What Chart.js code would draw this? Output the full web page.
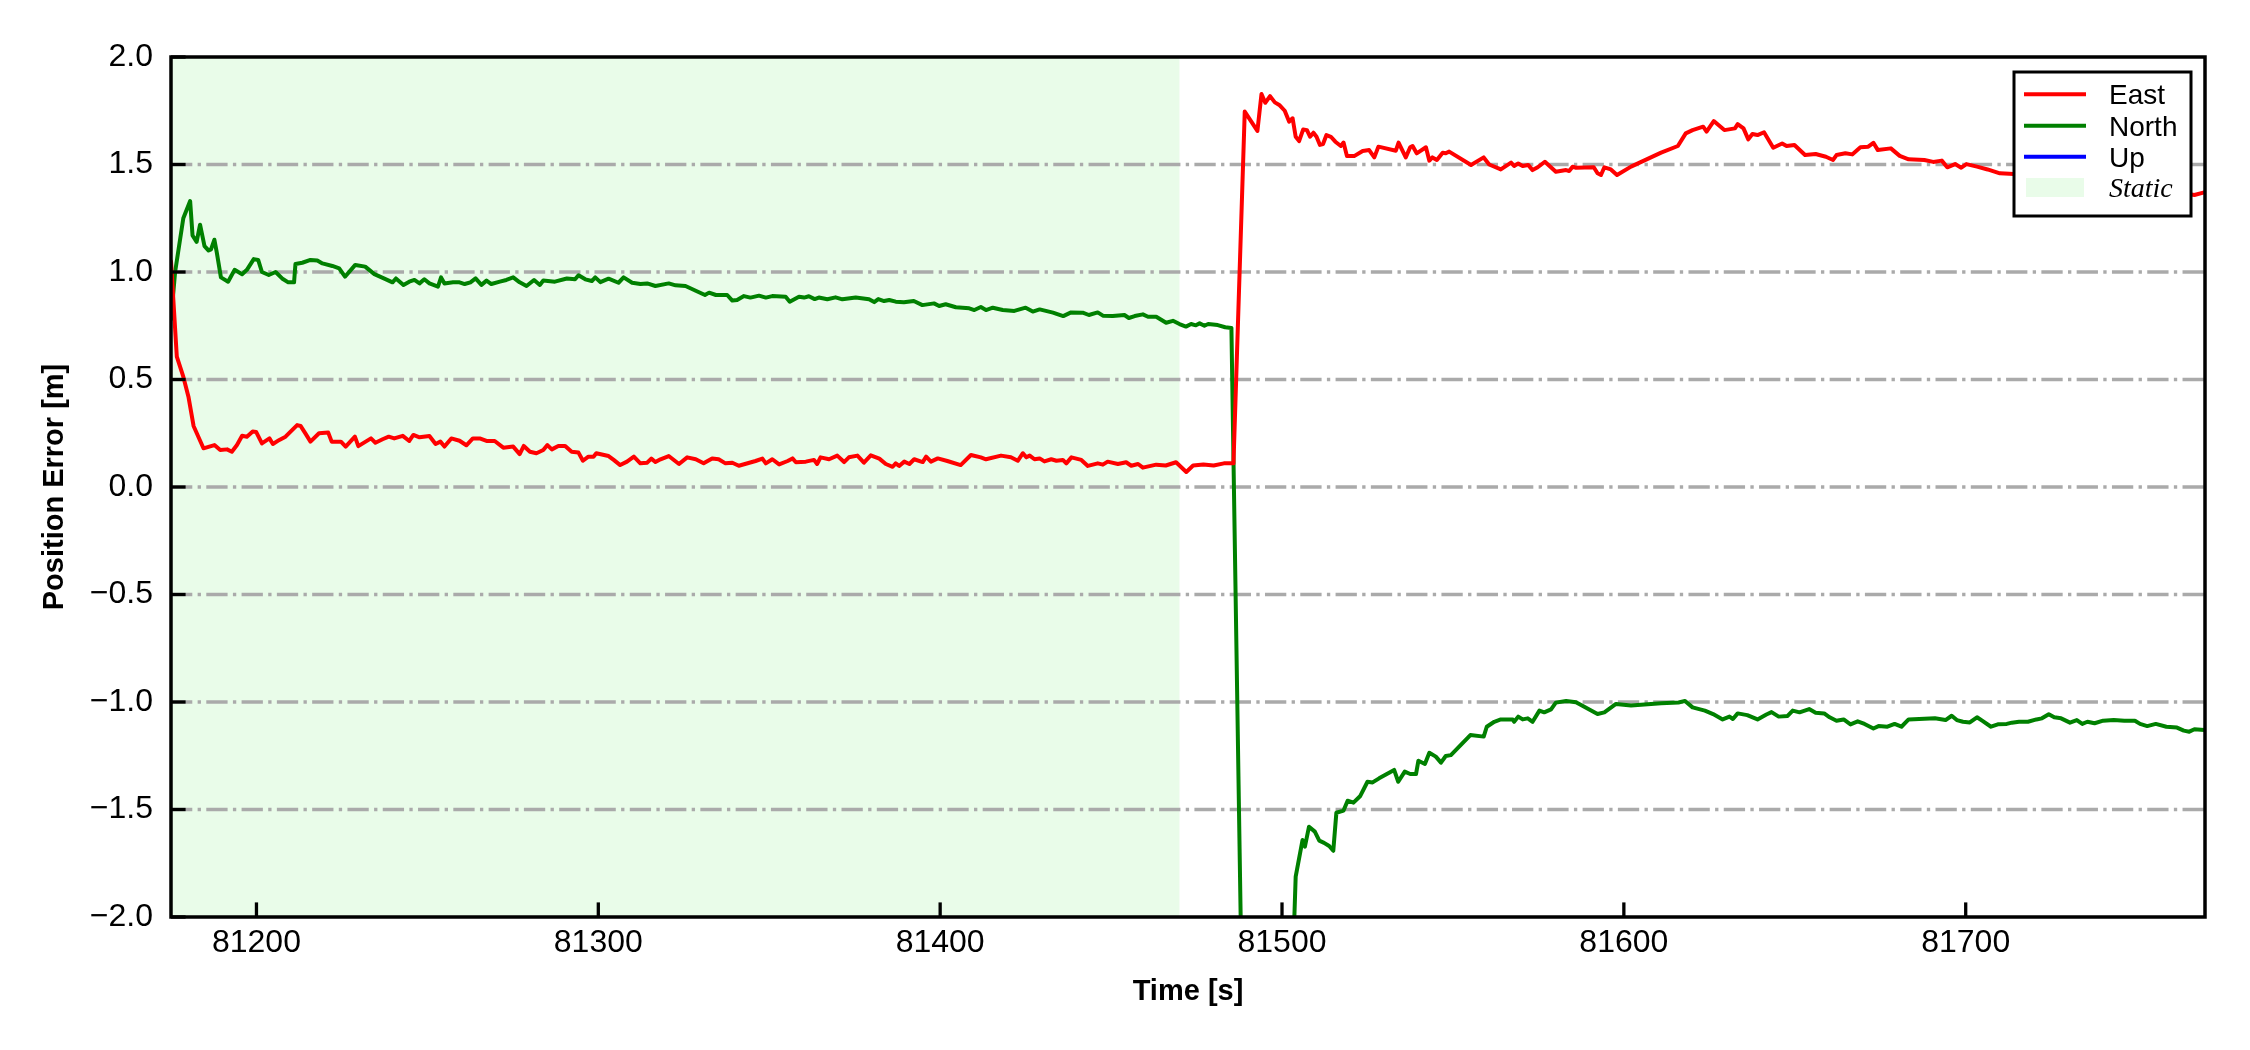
<!DOCTYPE html>
<html>
<head>
<meta charset="utf-8">
<script src="https://cdn.jsdelivr.net/npm/chart.js@4.4.1/dist/chart.umd.min.js"></script>
<style>
html,body{margin:0;padding:0;background:#fff;}
canvas{display:block;}
</style>
</head>
<body>
<canvas id="c" width="2250" height="1050"></canvas>
<script>
// ---------------- data ----------------
const xTickValues = [81200, 81300, 81400, 81500, 81600, 81700];
const yTickValues = [-2.0, -1.5, -1.0, -0.5, 0.0, 0.5, 1.0, 1.5, 2.0];
const xRange = [81175, 81770];
const yRange = [-2, 2];
const staticRange = [81175, 81470];
const legendLabels = ['East', 'North', 'Up', 'Static'];

const eastTime = [
81175.0,81176.7,81178.6,81180.1,81181.6,81183.0,81184.5,81187.7,81189.4,81191.4,
81192.8,81194.3,81195.8,81197.2,81198.9,81199.9,81201.6,81203.8,81204.8,81206.7,
81208.5,81211.9,81212.9,81214.4,81215.8,81218.3,81221.0,81222.0,81224.7,81226.1,
81228.8,81229.8,81233.5,81234.8,81236.9,81238.7,81240.3,81242.8,81244.7,81245.9,
81247.7,81250.6,81252.4,81253.8,81255.0,81257.0,81259.4,81261.4,81263.3,81265.3,
81267.3,81269.7,81272.2,81275.1,81277.0,81278.2,81280.0,81281.9,81283.9,81285.1,
81286.4,81288.3,81290.3,81292.2,81294.2,81295.5,81297.1,81298.6,81299.4,81303.0,
81304.5,81306.4,81308.4,81310.4,81312.3,81314.3,81315.5,81316.7,81318.2,81320.6,
81323.6,81326.0,81328.5,81330.8,81333.3,81335.2,81337.2,81339.2,81341.1,81346.0,
81348.0,81349.0,81350.9,81352.9,81355.4,81356.8,81357.8,81360.7,81363.1,81364.0,
81365.0,81367.5,81369.9,81371.9,81373.3,81375.8,81377.7,81379.7,81382.2,81384.1,
81386.1,81387.0,81388.0,81389.5,81391.0,81392.4,81394.9,81395.9,81397.3,81399.3,
81402.1,81406.0,81409.0,81411.9,81413.4,81417.8,81420.7,81422.7,81424.2,81425.2,
81426.2,81427.6,81429.1,81430.5,81432.5,81434.0,81435.9,81436.9,81438.4,81441.3,
81443.2,81446.1,81447.6,81449.0,81452.0,81454.4,81455.9,81457.9,81459.3,81463.2,
81466.0,81469.0,81472.0,81474.0,81477.0,81480.0,81483.0,81485.8,81489.1,81492.8,
81494.0,81495.1,81496.5,81497.9,81499.2,81500.8,81502.1,81503.1,81504.0,81505.0,
81506.2,81507.3,81508.2,81509.2,81510.1,81511.1,81512.0,81513.0,81514.3,81515.6,
81517.2,81518.0,81519.0,81521.1,81523.6,81525.5,81527.0,81528.2,81533.3,81534.1,
81536.2,81537.5,81538.2,81539.4,81542.1,81543.1,81544.0,81545.3,81547.0,81547.9,
81548.9,81555.3,81559.0,81560.6,81564.0,81567.0,81567.9,81569.1,81570.4,81572.0,
81573.3,81574.8,81576.9,81580.1,81583.1,81584.0,81585.0,81586.0,81591.2,81592.3,
81593.3,81594.3,81596.2,81598.0,81602.1,81610.9,81615.8,81618.1,81620.1,81623.2,
81624.2,81626.3,81629.4,81632.5,81633.3,81635.0,81636.4,81637.6,81639.1,81641.0,
81643.7,81646.3,81647.6,81649.9,81653.0,81656.1,81659.1,81661.2,81662.2,81664.8,
81666.8,81669.2,81671.5,81673.0,81674.3,81678.1,81680.7,81683.3,81687.9,81690.5,
81693.0,81694.6,81696.9,81698.7,81700.2,81703.3,81706.4,81710.0,81714.1,81730.0,
81750.0,81766.9,81769.5
];
const eastValues = [
1.050,0.606,0.513,0.420,0.284,0.234,0.180,0.195,0.172,0.175,
0.164,0.195,0.238,0.234,0.258,0.256,0.203,0.226,0.200,0.219,
0.234,0.288,0.284,0.247,0.211,0.250,0.253,0.211,0.211,0.188,
0.234,0.190,0.226,0.206,0.222,0.234,0.226,0.238,0.214,0.242,
0.231,0.237,0.200,0.211,0.188,0.226,0.215,0.194,0.226,0.226,
0.214,0.214,0.183,0.188,0.153,0.191,0.164,0.157,0.172,0.195,
0.175,0.191,0.191,0.164,0.160,0.122,0.141,0.141,0.157,0.144,
0.126,0.102,0.118,0.141,0.110,0.113,0.132,0.116,0.129,0.144,
0.107,0.138,0.129,0.110,0.133,0.129,0.110,0.113,0.099,0.121,
0.132,0.110,0.129,0.105,0.121,0.133,0.115,0.118,0.126,0.107,
0.138,0.129,0.146,0.116,0.138,0.146,0.113,0.147,0.132,0.107,
0.094,0.110,0.098,0.118,0.107,0.129,0.116,0.141,0.118,0.133,
0.121,0.102,0.149,0.138,0.129,0.146,0.138,0.122,0.157,0.138,
0.146,0.129,0.133,0.119,0.129,0.122,0.126,0.110,0.138,0.126,
0.098,0.110,0.104,0.118,0.107,0.115,0.099,0.107,0.090,0.104,
0.100,0.115,0.070,0.100,0.105,0.100,0.110,0.110,1.746,1.656,
1.828,1.787,1.818,1.789,1.777,1.750,1.699,1.715,1.629,1.609,
1.663,1.660,1.629,1.648,1.629,1.591,1.595,1.637,1.629,1.606,
1.586,1.602,1.539,1.539,1.563,1.567,1.533,1.583,1.564,1.602,
1.533,1.580,1.586,1.552,1.580,1.518,1.533,1.521,1.555,1.552,
1.560,1.498,1.533,1.500,1.477,1.509,1.493,1.505,1.493,1.498,
1.474,1.487,1.513,1.466,1.474,1.470,1.490,1.485,1.487,1.459,
1.451,1.487,1.477,1.451,1.490,1.555,1.586,1.645,1.660,1.676,
1.653,1.702,1.660,1.668,1.688,1.668,1.617,1.642,1.637,1.650,
1.578,1.598,1.586,1.591,1.544,1.549,1.536,1.521,1.544,1.552,
1.547,1.580,1.583,1.601,1.567,1.575,1.540,1.524,1.521,1.512,
1.518,1.487,1.502,1.485,1.502,1.490,1.477,1.459,1.456,1.420,
1.400,1.358,1.369
];

const northTime = [
81175.0,81176.2,81178.6,81180.6,81181.3,81182.5,81183.5,81184.8,81186.0,81186.7,
81187.7,81188.4,81189.6,81191.7,81193.6,81195.8,81197.2,81199.2,81200.5,81201.6,
81203.6,81205.6,81207.5,81209.3,81211.0,81211.4,81213.4,81215.8,81217.8,81219.3,
81222.2,81224.2,81225.9,81228.9,81231.8,81234.5,81237.9,81239.8,81240.8,81243.0,
81244.7,81246.2,81247.7,81249.1,81250.6,81253.1,81254.0,81255.0,81257.5,81259.4,
81260.9,81262.6,81264.1,81265.8,81267.3,81268.7,81271.2,81273.1,81275.1,81277.0,
81279.0,81281.2,81282.9,81283.9,81287.3,81290.8,81293.2,81294.2,81296.2,81298.1,
81299.1,81300.6,81303.0,81305.9,81307.4,81309.9,81312.3,81314.3,81316.7,81320.6,
81322.6,81325.5,81328.5,81331.2,81332.4,81334.4,81337.7,81339.2,81340.6,81342.6,
81344.5,81347.0,81349.0,81350.9,81354.8,81356.0,81358.7,81360.2,81361.6,81363.3,
81364.5,81367.0,81369.4,81371.4,81375.3,81379.2,81380.7,81381.9,81383.6,81385.1,
81387.0,81389.4,81392.3,81394.8,81398.2,81399.7,81401.6,81404.6,81408.5,81410.0,
81411.9,81413.4,81415.4,81418.3,81421.7,81425.0,81427.1,81429.1,81433.0,81436.0,
81438.3,81441.7,81443.5,81446.1,81447.6,81450.5,81453.9,81455.2,81456.9,81459.3,
81460.8,81463.2,81466.1,81468.1,81470.0,81471.9,81473.4,81474.8,81475.9,81477.3,
81478.4,81481.2,81483.4,81485.2,81488.5,81503.0,81504.0,81506.0,81506.7,81507.9,
81509.6,81510.9,81512.3,81513.8,81515.0,81515.9,81518.0,81519.2,81520.9,81522.9,
81525.0,81526.5,81528.4,81532.8,81534.0,81535.9,81537.5,81539.2,81539.9,81541.8,
81543.1,81545.0,81546.5,81547.9,81549.4,81555.1,81559.0,81559.9,81562.1,81564.0,
81567.5,81567.9,81569.1,81570.4,81571.9,81573.3,81575.3,81576.7,81578.7,81580.1,
81583.1,81586.0,81592.3,81594.3,81597.7,81602.1,81610.9,81616.0,81617.9,81620.1,
81623.7,81626.1,81628.9,81630.9,81631.9,81633.3,81636.1,81639.1,81641.7,81643.2,
81645.3,81647.9,81649.4,81651.4,81654.2,81656.1,81658.6,81660.2,81662.2,81664.3,
81666.3,81668.4,81670.4,81673.0,81674.5,81677.1,81679.2,81681.2,81683.3,81691.0,
81694.1,81695.9,81697.4,81699.2,81701.2,81703.3,81704.8,81707.4,81709.4,81712.0,
81713.5,81715.6,81718.2,81720.7,81722.3,81724.3,81725.9,81727.9,81730.5,81732.5,
81734.1,81735.6,81737.7,81740.2,81743.3,81746.4,81749.5,81751.0,81753.1,81755.6,
81758.7,81761.8,81763.8,81765.4,81766.9,81769.8
];
const northValues = [
0.780,1.000,1.250,1.330,1.170,1.140,1.220,1.120,1.100,1.105,
1.150,1.090,0.975,0.955,1.010,0.990,1.010,1.060,1.056,1.000,
0.986,1.000,0.970,0.952,0.952,1.037,1.043,1.056,1.053,1.040,
1.028,1.017,0.978,1.033,1.025,0.990,0.966,0.952,0.970,0.940,
0.955,0.963,0.947,0.966,0.947,0.932,0.975,0.947,0.952,0.952,
0.944,0.952,0.970,0.940,0.960,0.944,0.955,0.963,0.975,0.952,
0.935,0.963,0.940,0.960,0.955,0.970,0.966,0.985,0.966,0.958,
0.975,0.953,0.969,0.950,0.975,0.950,0.944,0.947,0.935,0.947,
0.938,0.935,0.913,0.893,0.904,0.893,0.893,0.867,0.870,0.888,
0.881,0.890,0.881,0.888,0.885,0.862,0.885,0.881,0.887,0.874,
0.881,0.873,0.882,0.873,0.881,0.873,0.860,0.874,0.865,0.870,
0.862,0.859,0.865,0.846,0.854,0.842,0.850,0.836,0.831,0.823,
0.837,0.823,0.834,0.823,0.819,0.834,0.816,0.826,0.811,0.795,
0.812,0.811,0.800,0.812,0.797,0.795,0.800,0.786,0.795,0.803,
0.792,0.792,0.764,0.773,0.758,0.746,0.758,0.752,0.761,0.750,
0.758,0.753,0.743,0.740,-2.600,-2.300,-1.812,-1.642,-1.673,-1.580,
-1.603,-1.645,-1.655,-1.670,-1.692,-1.515,-1.505,-1.459,-1.468,-1.437,
-1.371,-1.374,-1.355,-1.316,-1.371,-1.324,-1.335,-1.335,-1.273,-1.288,
-1.236,-1.254,-1.282,-1.251,-1.247,-1.154,-1.161,-1.115,-1.092,-1.081,
-1.081,-1.092,-1.068,-1.081,-1.076,-1.092,-1.040,-1.048,-1.034,-1.003,
-0.995,-1.001,-1.056,-1.048,-1.009,-1.016,-1.006,-1.002,-0.995,-1.025,
-1.040,-1.056,-1.081,-1.068,-1.079,-1.053,-1.061,-1.081,-1.058,-1.047,
-1.068,-1.065,-1.040,-1.048,-1.033,-1.050,-1.053,-1.071,-1.087,-1.081,
-1.104,-1.090,-1.102,-1.123,-1.112,-1.115,-1.102,-1.115,-1.081,-1.076,
-1.084,-1.064,-1.084,-1.092,-1.095,-1.071,-1.087,-1.115,-1.104,-1.102,
-1.096,-1.092,-1.092,-1.081,-1.076,-1.057,-1.071,-1.076,-1.096,-1.084,
-1.102,-1.092,-1.099,-1.087,-1.084,-1.087,-1.087,-1.102,-1.112,-1.102,
-1.115,-1.119,-1.133,-1.138,-1.127,-1.130
];

// Up is listed in the legend but no blue trace is visible in the plotted range
const upTime = [];
const upValues = [];

// ---------------- styles ----------------
const eastColor = '#ff0000', northColor = '#008000', upColor = '#0000ff';
const staticColor = 'rgba(144,238,144,0.2)';
const lineW = 4;

Chart.defaults.font.family = "'Liberation Sans', Arial, Helvetica, sans-serif";
Chart.defaults.color = '#000';

function pts(t, v) { return t.map((x, i) => ({x: x, y: v[i]})); }

const decor = {
  id: 'decor',
  beforeDraw(chart) {
    const {ctx, chartArea: a, scales: {x, y}} = chart;
    ctx.save();
    ctx.fillStyle = '#ffffff';
    ctx.fillRect(0, 0, chart.width, chart.height);
    const s0 = Math.max(x.getPixelForValue(staticRange[0]), a.left);
    const s1 = Math.min(x.getPixelForValue(staticRange[1]), a.right);
    ctx.fillStyle = staticColor;
    ctx.fillRect(s0, a.top, s1 - s0, a.bottom - a.top);
    ctx.strokeStyle = '#aaaaaa';
    ctx.lineWidth = 3.33;
    ctx.lineCap = 'butt';
    ctx.setLineDash([21.3, 5.33, 3.33, 5.33]);
    yTickValues.forEach(v => {
      if (v <= yRange[0] || v >= yRange[1]) return;
      const py = y.getPixelForValue(v);
      ctx.beginPath(); ctx.moveTo(a.left, py); ctx.lineTo(a.right, py); ctx.stroke();
    });
    ctx.restore();
  },
  afterDatasetsDraw(chart) {
    const {ctx, chartArea: a, scales: {x, y}} = chart;
    ctx.save();
    ctx.setLineDash([]);
    ctx.strokeStyle = '#000';
    ctx.lineWidth = 3.3;
    ctx.lineCap = 'butt';
    xTickValues.forEach(v => {
      const px = x.getPixelForValue(v);
      ctx.beginPath(); ctx.moveTo(px, a.bottom); ctx.lineTo(px, a.bottom - 14.6); ctx.stroke();
    });
    yTickValues.forEach(v => {
      const py = y.getPixelForValue(v);
      ctx.beginPath(); ctx.moveTo(a.left, py); ctx.lineTo(a.left + 14.6, py); ctx.stroke();
    });
    ctx.lineWidth = 3.5;
    ctx.strokeRect(a.left, a.top, a.right - a.left, a.bottom - a.top);
    ctx.restore();
  },
  afterDraw(chart) {
    const ctx = chart.ctx;
    ctx.save();
    const bx = 2014, by = 72, bw = 177, bh = 144;
    ctx.fillStyle = '#ffffff';
    ctx.fillRect(bx, by, bw, bh);
    ctx.strokeStyle = '#000';
    ctx.lineWidth = 3;
    ctx.strokeRect(bx, by, bw, bh);
    const colors = [eastColor, northColor, upColor];
    const rows = [94.3, 125.7, 156.7];
    ctx.lineWidth = lineW;
    ctx.lineCap = 'butt';
    colors.forEach((c, i) => {
      ctx.strokeStyle = c;
      ctx.beginPath(); ctx.moveTo(2024, rows[i]); ctx.lineTo(2086, rows[i]); ctx.stroke();
    });
    ctx.fillStyle = staticColor;
    ctx.fillRect(2026, 178, 58, 19);
    ctx.fillStyle = '#000';
    ctx.textAlign = 'left';
    ctx.textBaseline = 'alphabetic';
    ctx.font = "28px 'Liberation Sans', Arial, sans-serif";
    ctx.fillText(legendLabels[0], 2109, 104.3);
    ctx.fillText(legendLabels[1], 2109, 135.7);
    ctx.fillText(legendLabels[2], 2109, 166.7);
    ctx.font = "italic 28px 'Liberation Serif', 'Times New Roman', serif";
    ctx.fillText(legendLabels[3], 2109, 196.7);
    ctx.restore();
  }
};

const lineDs = (label, t, v, color) => ({
  label: label, data: pts(t, v), borderColor: color, backgroundColor: color,
  borderWidth: lineW, pointRadius: 0, pointHoverRadius: 0, tension: 0, fill: false,
  borderJoinStyle: 'round', borderCapStyle: 'round'
});

new Chart(document.getElementById('c'), {
  type: 'line',
  data: {
    datasets: [
      lineDs(legendLabels[0], eastTime, eastValues, eastColor),
      lineDs(legendLabels[1], northTime, northValues, northColor),
      lineDs(legendLabels[2], upTime, upValues, upColor)
    ]
  },
  options: {
    responsive: false,
    animation: false,
    devicePixelRatio: 1,
    events: [],
    layout: {padding: {top: 57, right: 45, left: 0, bottom: 0}},
    plugins: {legend: {display: false}, tooltip: {enabled: false}, title: {display: false}},
    scales: {
      x: {
        type: 'linear', min: xRange[0], max: xRange[1],
        grid: {display: false, drawTicks: false},
        border: {display: false},
        afterBuildTicks: s => { s.ticks = xTickValues.map(v => ({value: v})); },
        afterFit: s => { s.height = 133; },
        ticks: {padding: 7, font: {size: 32}, color: '#000', maxRotation: 0, autoSkip: false,
                callback: v => String(v)},
        title: {display: true, text: 'Time [s]', color: '#000',
                font: {size: 29, weight: 'bold'}, padding: {top: 0, bottom: 41}}
      },
      y: {
        type: 'linear', min: yRange[0], max: yRange[1],
        grid: {display: false, drawTicks: false},
        border: {display: false},
        afterBuildTicks: s => { s.ticks = yTickValues.map(v => ({value: v})); },
        afterFit: s => { s.width = 171; },
        ticks: {padding: 18, font: {size: 32}, color: '#000', autoSkip: false,
                callback: v => (v < 0 ? '\u2212' : '') + Math.abs(v).toFixed(1)},
        title: {display: true, text: 'Position Error [m]', color: '#000',
                font: {size: 29, weight: 'bold'}, padding: {top: 38, bottom: 0}}
      }
    }
  },
  plugins: [decor]
});
</script>
</body>
</html>
